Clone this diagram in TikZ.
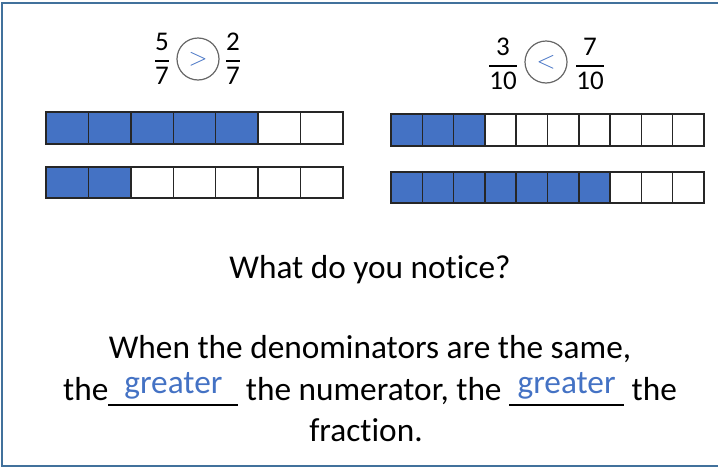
\documentclass[tikz,border=0pt]{standalone}
\usepackage{amsmath}
\usepackage{fontspec}
\setmainfont{Carlito}[Ligatures={NoCommon}]
\usepackage{xcolor}
\usetikzlibrary{positioning}
\definecolor{fillblue}{HTML}{4472C4}
\definecolor{framecol}{HTML}{41719C}
\newcommand{\fracbox}[2]{$\genfrac{}{}{1.8pt}{0}{\text{#1}}{\text{#2}}$}
\newcommand{\blankword}[2]{\rlap{\rule[-5.5pt]{#1}{1.5pt}}\makebox[#1]{\raisebox{7pt}{\textcolor{fillblue}{#2}}}}

\begin{document}
\begin{tikzpicture}[x=1pt,y=-1pt,line cap=round,
  cell/.style={draw=black!85,line width=1.5pt},
  frac/.style={inner sep=0pt,font=\fontsize{27}{32}\selectfont},
  cmp/.style={circle,draw=black!60,line width=1.2pt,minimum size=42pt,inner sep=0pt},
  rel/.style={text=fillblue,font=\fontsize{40}{40}\selectfont,inner sep=0pt},
  say/.style={anchor=base,font=\fontsize{33.3}{40}\selectfont}]
\useasboundingbox (0,0) rectangle (718,469);
\draw[framecol,line width=2pt] (718,3) -- (1.5,3) -- (1.5,466) -- (718,466);
% sevenths
\node[frac] (fracA) at (162,59) {\fracbox{5}{7}};
\node[cmp] (cmpA) at (198,59) {};
\node[rel] (relA) at (cmpA) {$>$};
\node[frac] (fracB) at (233,59) {\fracbox{2}{7}};
\fill[fillblue] (46,112) rectangle (258.15,144);
\foreach \i in {0,...,6} \draw[cell] (46+\i*42.43,112) rectangle +(42.43,32);
\fill[fillblue] (46,167) rectangle (130.86,198);
\foreach \i in {0,...,6} \draw[cell] (46+\i*42.43,167) rectangle +(42.43,31);
% tenths
\node[frac] (fracC) at (503,64) {\fracbox{3}{10}};
\node[cmp] (cmpB) at (546,62) {};
\node[rel] (relB) at (cmpB) {$<$};
\node[frac] (fracD) at (590,64) {\fracbox{7}{10}};
\fill[fillblue] (391,114) rectangle (484.9,146);
\foreach \i in {0,...,9} \draw[cell] (391+\i*31.3,114) rectangle +(31.3,32);
\fill[fillblue] (391,172) rectangle (610.1,203);
\foreach \i in {0,...,9} \draw[cell] (391+\i*31.3,172) rectangle +(31.3,31);
% text
\node[say] (notice) at (370,278) {What do you notice?};
\node[say] (line1) at (370,358) {When the denominators are the same,};
\node[say] (line2) at (370,400) {the\blankword{130pt}{greater} the numerator, the \blankword{115pt}{greater} the};
\node[say] (line3) at (366,441) {fraction.};
\end{tikzpicture}
\end{document}
